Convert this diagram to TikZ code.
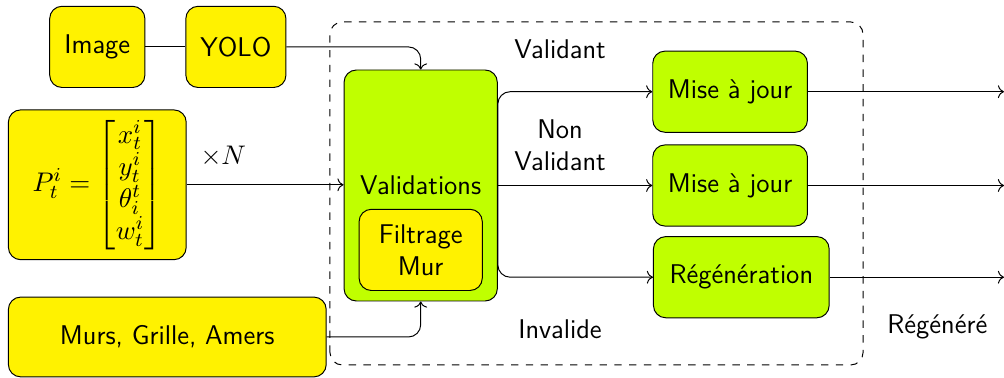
\documentclass[tikz,border=0pt]{standalone}
\usepackage{amsmath}
\usepackage{tikz}
\usetikzlibrary{arrows.meta, positioning, calc}

\definecolor{boxyellow}{RGB}{255,242,0}
\definecolor{boxgreen}{RGB}{192,255,0}

\begin{document}
\begin{tikzpicture}[
  every node/.style={font=\sffamily\fontsize{11}{13}\selectfont},
  inbox/.style={
    draw, rounded corners=5pt, fill=boxyellow,
    minimum height=1.16cm, align=center
  },
  procbox/.style={
    draw, rounded corners=5pt, fill=boxgreen,
    minimum height=1.16cm, align=center
  },
  arr/.style={->, rounded corners=5pt},
  lbl/.style={align=center},
]
\useasboundingbox (0,0) rectangle (14.343,5.4);

%% ── Inputs ────────────────────────────────────────────────────────────────
\node[inbox, minimum width=1.36cm] (img)  at (1.39, 4.73) {Image};
\node[inbox, minimum width=1.43cm] (yolo) at (3.37, 4.73) {YOLO};
\node[inbox, minimum width=2.54cm, minimum height=2.14cm] (part) at (1.39, 2.76)
  {$P_t^i = \begin{bmatrix} x_t^i\\ y_t^i\\ \theta_i^t\\ w_t^i \end{bmatrix}$};
\node[inbox, minimum width=4.54cm, minimum height=1.14cm] (map) at (2.39, 0.586)
  {Murs, Grille, Amers};

%% ── Validation block ──────────────────────────────────────────────────────
\draw[dashed, rounded corners=5pt] (4.714, 0.186) rectangle (12.329, 5.086);
\node[procbox, minimum width=2.19cm, minimum height=3.30cm] (val) at (6.01, 2.75)
  {Validations};
\node[inbox, minimum width=1.76cm] (wall) at (6.01, 1.83) {Filtrage\\Mur};

%% ── Outcomes ──────────────────────────────────────────────────────────────
\node[procbox, minimum width=2.21cm] (upd1)  at (10.43, 4.09) {Mise à jour};
\node[procbox, minimum width=2.21cm] (upd2)  at (10.43, 2.75) {Mise à jour};
\node[procbox, minimum width=2.51cm] (regen) at (10.59, 1.44) {Régénération};

\coordinate (out1) at (14.343, 4.09);
\coordinate (out2) at (14.343, 2.75);
\coordinate (out3) at (14.343, 1.44);

%% ── Connections ───────────────────────────────────────────────────────────
\draw (img) -- (yolo);
\draw[arr] (yolo.east) -| (val.north);
\draw[arr] (part.east) -- node[above, yshift=4pt, xshift=-17pt] {$\times N$} (part.east -| val.west);
\draw[arr] (map.east) -| (val.south);

\draw[arr] (val.east) |- (upd1.west);
\draw[arr] (val.east) -- (upd2.west);
\draw[arr] (val.east) |- (regen.west);

\draw[->] (upd1) -- (out1);
\draw[->] (upd2) -- (out2);
\draw[->] (regen) -- (out3);

%% ── Labels ────────────────────────────────────────────────────────────────
\node[lbl] (lvalid)   at (8.0, 4.69) {Validant};
\node[lbl] (lnonval)  at (8.0, 3.33) {Non\\Validant};
\node[lbl] (linval)   at (8.0, 0.70) {Invalide};
\node[lbl] (lregen)   at (13.39, 0.73) {Régénéré};

\end{tikzpicture}
\end{document}
